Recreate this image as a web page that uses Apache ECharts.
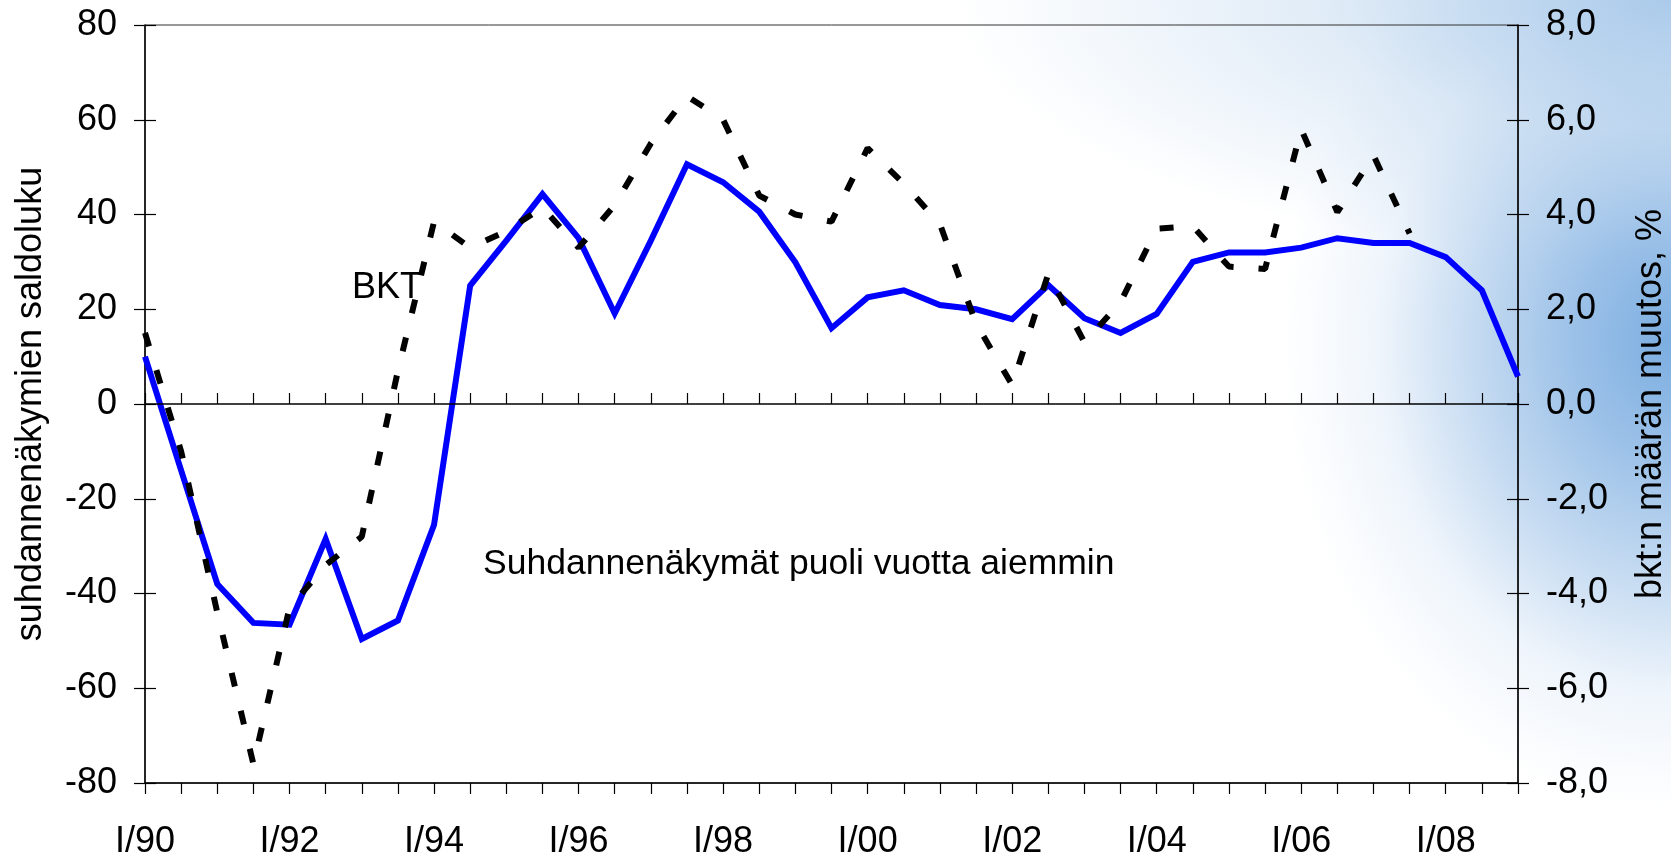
<!DOCTYPE html>
<html>
<head>
<meta charset="utf-8">
<title>Suhdannenäkymät ja BKT</title>
<script src="https://cdn.jsdelivr.net/npm/echarts@6/dist/echarts.min.js"></script>
<style>
  html, body { margin: 0; padding: 0; }
  #chart {
    width: 1671px;
    height: 854px;
    background:
      radial-gradient(ellipse 720px 260px at 100% 0%, rgba(160,196,232,0.85) 0%, rgba(190,214,238,0.45) 50%, rgba(255,255,255,0) 100%),
      radial-gradient(ellipse 390px 470px at 100% 40%, #7caee1 0%, #9cc1e8 25%, #c4daf1 50%, rgba(228,238,249,0.6) 75%, rgba(255,255,255,0) 100%),
      #ffffff;
  }
</style>
</head>
<body>
<div id="chart"></div>
<script>
// puolivuosittaiset kategoriat I/90 ... I/09
const periods = [
  "I/90", "II/90", "I/91", "II/91", "I/92", "II/92", "I/93", "II/93",
  "I/94", "II/94", "I/95", "II/95", "I/96", "II/96", "I/97", "II/97",
  "I/98", "II/98", "I/99", "II/99", "I/00", "II/00", "I/01", "II/01",
  "I/02", "II/02", "I/03", "II/03", "I/04", "II/04", "I/05", "II/05",
  "I/06", "II/06", "I/07", "II/07", "I/08", "II/08", "I/09"
];

// suhdannenäkymien saldoluku (vasen akseli)
const outlook = [
  10, -14, -38, -46.2, -46.6, -28.5, -49.6, -45.7,
  -25.5, 25, 34.5, 44.3, 35, 19.1, 34.5, 50.6,
  46.8, 40.6, 29.9, 16, 22.5, 24, 20.9, 20,
  17.9, 25.1, 18.1, 15, 19, 30, 32, 32,
  33, 35, 34, 34, 31, 24, 5.8
];

// BKT:n määrän muutos, % (oikea akseli)
const gdp = [
  1.5, -1.0, -4.4, -7.6, -4.3, -3.4, -2.8, 0.7,
  3.85, 3.3, 3.65, 4.15, 3.3, 4.2, 5.5, 6.5,
  6.0, 4.4, 4.0, 3.85, 5.4, 4.65, 3.8, 1.7,
  0.4, 2.75, 1.3, 2.15, 3.7, 3.75, 2.9, 2.85,
  5.8, 4.05, 5.25, 3.6, null, null, null
];

const FONT = "'Liberation Sans', Arial, sans-serif";

let myChart = echarts.init(document.getElementById("chart"));

let comma = function (v) {
  return v.toFixed(1).replace(".", ",");
};

let option = {
  animation: false,
  backgroundColor: "transparent",
  textStyle: { fontFamily: FONT },
  grid: {
    left: 145,
    right: 153,
    top: 25,
    bottom: 71,
    show: true,
    borderColor: "#333",
    borderWidth: 1,
    backgroundColor: "transparent",
    outerBoundsMode: "none",
    containLabel: false
  },
  xAxis: [
    {
      type: "category",
      data: periods,
      boundaryGap: false,
      axisLine: { show: true, onZero: false, lineStyle: { color: "#000", width: 1.5 } },
      axisTick: { show: true, interval: 0, length: 11, lineStyle: { color: "#000", width: 1.2 } },
      axisLabel: { interval: 3, margin: 41, fontSize: 36, color: "#000", fontFamily: FONT },
      splitLine: { show: false }
    },
    {
      type: "category",
      data: periods,
      boundaryGap: false,
      position: "bottom",
      axisLine: { show: false },
      axisTick: { show: true, inside: true, interval: 0, length: 11, lineStyle: { color: "#000", width: 1.2 } },
      axisLabel: { show: false },
      splitLine: { show: false }
    }
  ],
  yAxis: [
    {
      type: "value",
      position: "left",
      min: -80,
      max: 80,
      interval: 20,
      name: "suhdannenäkymien saldoluku",
      nameLocation: "middle",
      nameRotate: 90,
      nameGap: 96,
      nameTextStyle: { fontSize: 36, color: "#000", fontFamily: FONT },
      axisLine: { show: true, onZero: false, lineStyle: { color: "#000", width: 1.5 } },
      axisTick: { show: true, length: 11, lineStyle: { color: "#000", width: 1.2 } },
      axisLabel: { margin: 28, fontSize: 36, color: "#000", fontFamily: FONT },
      splitLine: { show: false }
    },
    {
      type: "value",
      position: "right",
      min: -8,
      max: 8,
      interval: 2,
      name: "bkt:n määrän muutos, %",
      nameLocation: "middle",
      nameRotate: 90,
      nameGap: 115,
      nameTextStyle: { fontSize: 36, color: "#000", fontFamily: FONT },
      axisLine: { show: true, onZero: false, lineStyle: { color: "#000", width: 1.5 } },
      axisTick: { show: true, length: 11, lineStyle: { color: "#000", width: 1.2 } },
      axisLabel: { margin: 28, fontSize: 36, color: "#000", fontFamily: FONT, formatter: comma },
      splitLine: { show: false }
    },
    {
      type: "value",
      position: "left",
      min: -80,
      max: 80,
      interval: 20,
      axisLine: { show: false },
      axisTick: { show: true, inside: true, length: 11, lineStyle: { color: "#000", width: 1.2 } },
      axisLabel: { show: false },
      splitLine: { show: false }
    },
    {
      type: "value",
      position: "right",
      min: -8,
      max: 8,
      interval: 2,
      axisLine: { show: false },
      axisTick: { show: true, inside: true, length: 11, lineStyle: { color: "#000", width: 1.2 } },
      axisLabel: { show: false },
      splitLine: { show: false }
    }
  ],
  graphic: [
    {
      type: "text",
      x: 352,
      y: 288,
      style: { text: "BKT", font: "36px " + FONT, fill: "#000", verticalAlign: "middle", align: "left" }
    },
    {
      type: "text",
      x: 483,
      y: 564,
      style: {
        text: "Suhdannenäkymät puoli vuotta aiemmin",
        font: "35.5px " + FONT,
        fill: "#000",
        verticalAlign: "middle",
        align: "left"
      }
    }
  ],
  series: [
    {
      name: "Suhdannenäkymät puoli vuotta aiemmin",
      type: "line",
      xAxisIndex: 0,
      yAxisIndex: 0,
      data: outlook,
      symbol: "none",
      lineStyle: { color: "#0000ff", width: 6, join: "miter" },
      z: 3,
      markLine: {
        silent: true,
        symbol: "none",
        label: { show: false },
        lineStyle: { color: "#000", width: 1.5, type: "solid" },
        data: [{ yAxis: 0 }]
      }
    },
    {
      name: "BKT",
      type: "line",
      xAxisIndex: 0,
      yAxisIndex: 1,
      data: gdp,
      symbol: "none",
      connectNulls: false,
      lineStyle: { color: "#000", width: 6, type: [14, 25], cap: "butt" },
      z: 4
    }
  ]
};

myChart.setOption(option);
</script>
</body>
</html>
